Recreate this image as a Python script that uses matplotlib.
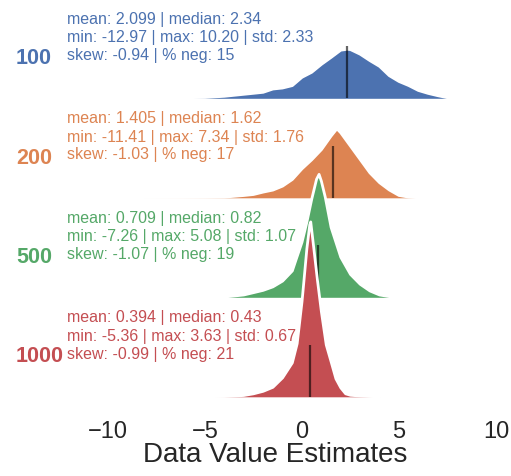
import matplotlib.pyplot as plt

plt.rcParams['font.family'] = ['Liberation Sans', 'DejaVu Sans']

# ridge data: density curves
groups = ['100', '200', '500', '1000']
colors = ['#4C72B0', '#DD8452', '#55A868', '#C44E52']

x_100 = [-10.5, -9, -8, -7, -6, -5, -4, -3, -2.5, -2, -1.5, -1, -0.5, 0, 0.5, 1, 1.5,
         2, 2.34, 2.5, 3, 3.5, 4, 4.5, 5, 5.5, 6, 6.5, 7, 7.5, 8]
d_100 = [0, .001, .0014, .0017, .0021, .0028, .0069, .0138, .0172, .0207, .032, .0355,
         .0438, .0724, .0897, .117, .141, .166, .169, .168, .152, .130, .110, .078, .058,
         .044, .027, .017, .009, .002, 0]

x_200 = [-11, -8, -6, -5, -4, -3, -2.5, -2, -1.5, -1, -0.5, 0, 0.5, 1, 1.5, 1.8, 2,
         2.5, 3, 3.5, 4, 4.5, 5, 5.5, 6]
d_200 = [0, .0007, .001, .0014, .0024, .0079, .0114, .0197, .0266, .0403, .0631, .1,
         .131, .166, .213, .238, .224, .178, .132, .086, .052, .027, .008, .0024, 0]

x_500 = [-7, -5, -4, -3, -2.5, -2, -1.5, -1, -0.5, -0.3, 0, 0.25, 0.5, 0.75, 0.88, 1,
         1.2, 1.5, 2, 2.5, 3, 3.5, 4, 4.5, 5]
d_500 = [0, .0005, .001, .008, .016, .024, .036, .056, .091, .131, .19, .259, .338, .407,
         .424, .4, .345, .241, .138, .079, .045, .022, .008, .0024, 0]

x_1000 = [-5.5, -4, -3, -2.5, -2, -1.5, -1, -0.5, -0.25, 0, 0.1, 0.25, 0.4, 0.45, 0.6,
          0.8, 1.0, 1.25, 1.5, 1.75, 2, 2.25, 2.5, 3, 3.5, 4]
d_1000 = [0, .001, .0045, .0103, .019, .0328, .0655, .117, .183, .328, .4, .51, .593,
          .603, .517, .4, .293, .179, .121, .062, .031, .0103, .0052, .0028, .001, 0]

xs = [x_100, x_200, x_500, x_1000]
ds = [d_100, d_200, d_500, d_1000]
medians = [2.34, 1.62, 0.82, 0.43]

stats = [
    ['mean: 2.099 | median: 2.34', 'min: -12.97 | max: 10.20 | std: 2.33', 'skew: -0.94 | % neg: 15'],
    ['mean: 1.405 | median: 1.62', 'min: -11.41 | max: 7.34 | std: 1.76', 'skew: -1.03 | % neg: 17'],
    ['mean: 0.709 | median: 0.82', 'min: -7.26 | max: 5.08 | std: 1.07', 'skew: -1.07 | % neg: 19'],
    ['mean: 0.394 | median: 0.43', 'min: -5.36 | max: 3.63 | std: 0.67', 'skew: -0.99 | % neg: 21'],
]

W, H = 511, 477
fig = plt.figure(figsize=(W / 100, H / 100), dpi=100)

row_off = [0, 99.5, 199, 298.5]
ax_left, ax_right = 44, 505.7
ax_h = 180
px_per_unit = 290

for i, g in enumerate(groups):
    base = 99.3 + row_off[i]
    ax = fig.add_axes([ax_left / W, (H - base) / H, (ax_right - ax_left) / W, ax_h / H])
    ax.set_facecolor('none')
    ax.fill_between(xs[i], ds[i], 0, color=colors[i], lw=0)
    ax.plot(xs[i], ds[i], color='w', lw=2, clip_on=False)
    ax.vlines(medians[i], 0, 52 / px_per_unit, color='k', alpha=0.6, lw=1.6)
    ax.set_xlim(-13.3, 10.5)
    ax.set_ylim(0, ax_h / px_per_unit)
    ax.set_yticks([])
    for s in ax.spines.values():
        s.set_visible(False)
    if i < len(groups) - 1:
        ax.set_xticks([])
    else:
        ax.set_xticks([-10, -5, 0, 5, 10])
        ax.tick_params(axis='x', length=0, pad=16.5, labelsize=17, labelcolor='#262626')
        ax.set_xlabel('Data Value Estimates', fontsize=20, color='#262626', labelpad=-0.5)

    fig.text(16 / W, 1 - (64 + row_off[i]) / H, g, color=colors[i], fontsize=15.5,
             fontweight='bold', ha='left', va='baseline')
    for j, line in enumerate(stats[i]):
        yb = [24, 42.3, 60][j] + row_off[i]
        fig.text(67 / W, 1 - yb / H, line, color=colors[i], fontsize=11.5,
                 ha='left', va='baseline')

fig.savefig('out.png', dpi=100)
